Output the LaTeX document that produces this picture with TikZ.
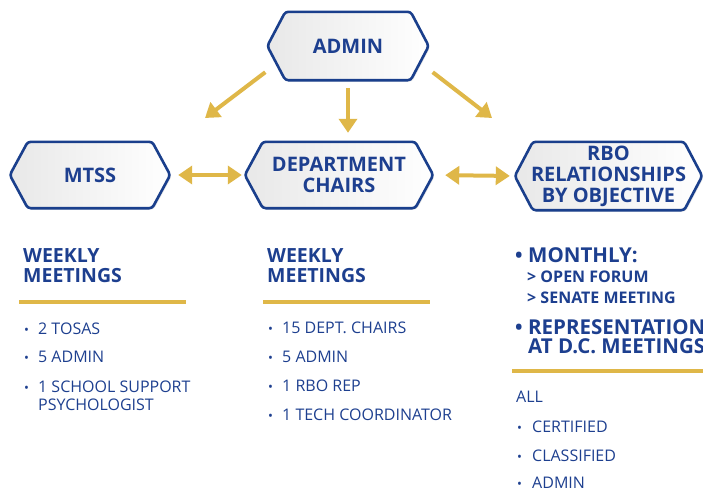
\documentclass[tikz,border=0pt]{standalone}
\usepackage{fontspec}
\setmainfont{Open Sans}
\usetikzlibrary{arrows.meta,positioning,calc,backgrounds,shadows}
\definecolor{navy}{HTML}{1D3F8F}
\definecolor{gold}{HTML}{DFB748}
\definecolor{hexline}{HTML}{1A3F8C}

\begin{document}
\begin{tikzpicture}[x=1pt, y=-1pt,
  hexa/.style={minimum height=68pt, inner sep=0pt, align=center, text=navy,
               font=\fontsize{20}{21}\selectfont\bfseries},
  hexline/.style={draw=hexline, line width=2.6pt, rounded corners=3pt,
                  left color=gray!18, right color=white,
                  drop shadow={opacity=0.2, shadow xshift=1.5pt, shadow yshift=-1.5pt}},
  arr/.style={gold, line width=4pt, -{Triangle[length=14pt,width=18pt]}},
  dblarr/.style={gold, line width=4pt,
                 {Triangle[length=14pt,width=18pt]}-{Triangle[length=14pt,width=18pt]}},
  head/.style={anchor=base west, inner sep=0pt, align=left, text=navy,
               font=\fontsize{19.5}{20}\selectfont\bfseries},
  bighead/.style={head, font=\fontsize{20.5}{19}\selectfont\bfseries},
  sub/.style={head, font=\fontsize{16}{16}\selectfont\bfseries},
  item/.style={anchor=base west, inner sep=0pt, align=left, text=navy,
               font=\fontsize{16}{18}\selectfont},
  dot/.style={anchor=base west, inner sep=0pt, text=navy, font=\fontsize{13}{13}\selectfont},
  bigdot/.style={dot, font=\fontsize{20}{20}\selectfont\bfseries},
  rule/.style={gold, line width=4pt}
]
\useasboundingbox (0,0) rectangle (703,491);

\node[hexa, minimum width=161pt] (admin) at (348,46) {ADMIN};
\node[hexa, minimum width=160pt, minimum height=66pt] (mtss) at (90,175) {MTSS};
\node[hexa, minimum width=188pt, minimum height=66pt] (chairs) at (339,175) {DEPARTMENT\\CHAIRS};
\node[hexa, minimum width=187pt] (rbo) at (608.5,176) {RBO\\RELATIONSHIPS\\BY OBJECTIVE};

\begin{scope}[on background layer]
\foreach \n in {admin,mtss,chairs,rbo}
  \draw[hexline] (\n.west) -- ([xshift=18pt]\n.north west) -- ([xshift=-18pt]\n.north east)
    -- (\n.east) -- ([xshift=-18pt]\n.south east) -- ([xshift=18pt]\n.south west) -- cycle;
\end{scope}

\coordinate (toleft) at (205,118);
\coordinate (toright) at (492,118);
\draw[arr] ([shift={(-2,-8)}]admin.south west) -- (toleft);
\draw[arr] ([shift={(4,-8)}]admin.south east) -- (toright);
\draw[arr, shorten <=8pt, shorten >=9pt] (admin.south) -- (admin.south |- chairs.north);
\draw[dblarr, shorten <=8pt, shorten >=3pt] (mtss.east) -- (chairs.west);
\draw[dblarr, shorten <=12pt, shorten >=5pt] (chairs.east) -- (rbo.west);

\node[head] (mtsshead) at (23,282) {WEEKLY\\MEETINGS};
\draw[rule] (19,302) -- (186,302);
\node[dot] (m1) at (24,334) {•};
\node[item] (mt1) at (38,334) {2 TOSAS};
\node[dot] (m2) at (24,362) {•};
\node[item] (mt2) at (38,362) {5 ADMIN};
\node[dot] (m3) at (24,392) {•};
\node[item] (mt3) at (38,410) {1 SCHOOL SUPPORT\\PSYCHOLOGIST};

\node[head] (chairshead) at (267,282) {WEEKLY\\MEETINGS};
\draw[rule] (263,302) -- (430,302);
\node[dot] (c1) at (268,333) {•};
\node[item] (ct1) at (282,333) {15 DEPT. CHAIRS};
\node[dot] (c2) at (268,362) {•};
\node[item] (ct2) at (282,362) {5 ADMIN};
\node[dot] (c3) at (268,391) {•};
\node[item] (ct3) at (282,391) {1 RBO REP};
\node[dot] (c4) at (268,420) {•};
\node[item] (ct4) at (282,420) {1 TECH COORDINATOR};

\node[bigdot] (r1) at (515,262) {•};
\node[bighead] (rt1) at (528,262) {MONTHLY:};
\node[sub] (rs1) at (527,282) {> OPEN FORUM};
\node[sub] (rs2) at (527,303) {> SENATE MEETING};
\node[bigdot] (r2) at (515,334) {•};
\node[bighead] (rt2) at (528,353) {REPRESENTATION\\AT D.C. MEETINGS};
\draw[rule] (512,371) -- (703,371);
\node[item] (all) at (516,402) {ALL};
\node[dot] (a1) at (517,432) {•};
\node[item] (at1) at (532,432) {CERTIFIED};
\node[dot] (a2) at (517,461) {•};
\node[item] (at2) at (532,461) {CLASSIFIED};
\node[dot] (a3) at (517,488) {•};
\node[item] (at3) at (532,488) {ADMIN};
\end{tikzpicture}
\end{document}
